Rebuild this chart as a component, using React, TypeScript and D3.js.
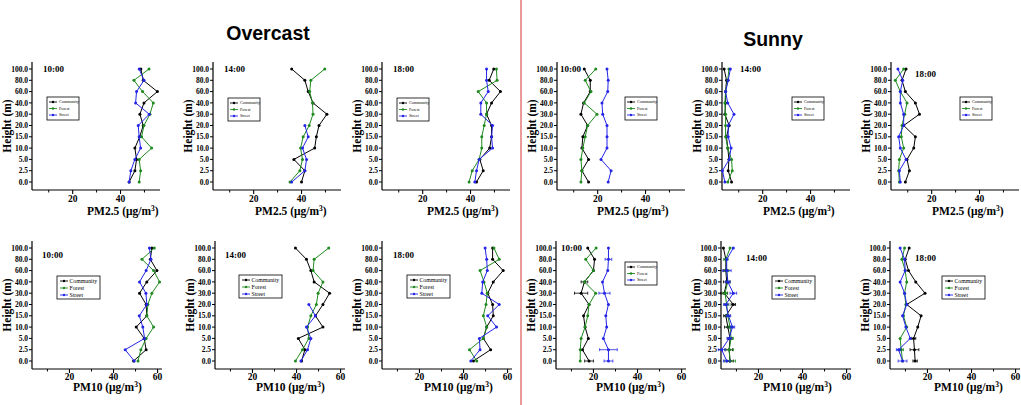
import * as d3 from "d3";
import { useEffect, useRef } from "react";

const heights = ["0.0", "2.5", "5.0", "10.0", "15.0", "20.0", "30.0", "40.0", "60.0", "80.0", "100.0"];
const sites = ["Community", "Forest", "Street"];
const siteColors = ["#000000", "#1f8a1f", "#2424e8"];
const pm25Ticks = [20, 40];
const pm10Ticks = [20, 40, 60];
const minorTicks = [10, 30, 50];
const times = ["10:00", "14:00", "18:00"];

// values per height, bottom (0.0 m) to top (100.0 m)
const overcastPm25At10 = {
  community: [43.6, 46, 46.7, 46, 48, 49.5, 48.1, 49.8, 55.4, 49.5, 48.5],
  forest: [47.8, 48.4, 47.8, 53, 48.8, 49.8, 52.3, 53.7, 49.2, 45.6, 51.9],
  street: [43.6, 44.3, 46, 48.4, 47.8, 47.4, 52, 46.3, 46.7, 49.8, 47.8]
};
const overcastPm25At14 = {
  community: [40, 41.4, 36.8, 45.5, 46.2, 47.3, 50.6, 44.8, 42.8, 41.4, 35.9],
  forest: [35.2, 39.3, 40.4, 39.6, 40.7, 43.2, 44.8, 44.6, 43.4, 43.9, 49.7],
  street: [35.9, 41.4, 42.1, 40.4, 42.8, 41.4, null, null, null, null, null]
};
const overcastPm25At18 = {
  community: [42.5, 45.3, 43.9, 48, 48.8, 48.8, 46.7, 48.8, 52.5, 47.8, 49.7],
  forest: [39.4, 40.7, 43.6, 44.7, 44.7, 45.7, 46.7, 46.7, 43.2, 51.1, 50.8],
  street: [41.8, 42.5, 43.6, 49.2, 48.8, 49.2, 44.3, 44.3, 47.4, 46.7, 46.7]
};
const sunnyPm25At10 = {
  community: [16.2, 13.4, 16.2, 13.4, 13.8, 15.8, 13, 14.1, 16.9, 16.9, 14.4],
  forest: [13, 13.4, 13, 13.8, 14.8, 15.8, 19.7, 14.4, 17.2, 14.8, 19.2],
  street: [24.4, 25.6, 21.4, 23.9, 23.9, 23.9, 22.1, 21.8, 24.2, 24.4, 23.9]
};
const sunnyPm25At14 = {
  community: [7, 5.6, 5.9, 5.4, 4.9, 6, 4.2, 4.5, 4.5, 4.9, 3.9],
  forest: [5.4, 7.3, 7, 5.4, 4.5, 4.5, 4.5, 4.2, 4.5, 5.4, 5.9],
  street: [4.2, 3.2, 6, 6.8, 5.6, 5.6, 8, 5.4, 4.5, 5.6, 6.5]
};
const sunnyPm25At18 = {
  community: [9, 10.7, 9.7, 12.5, 13.2, 8.3, 14.9, 13.2, 9, 7.6, 9.3],
  forest: [6.5, 6.2, 6.5, 8.3, 7.3, 7.6, 8.7, 9.7, 6.9, 4.8, 8.3],
  street: [6.9, 6.5, 9.3, 6.9, 6.2, 8.3, 8.3, 6.9, 6.9, 7.9, 5.9]
};
const overcastPm10At10 = {
  community: [49.1, 54.8, 53.9, 50.3, 55.1, 54.8, 51.8, 55.1, 59.7, 56.7, 57.4],
  forest: [51.1, 52.4, 54.8, 58.2, 55.1, 55.6, 57.4, 60.9, 58.2, 52.9, 58.5],
  street: [49.4, 45.3, 54.1, 53.3, 51.7, 55.1, 54.7, 51.8, 54.8, 57, 56.3]
};
const overcastPm10At14 = {
  community: [42.3, 43.8, 40.8, 52, 48.6, 52, 55, 48, 46.5, 44.5, 39.5],
  forest: [39.5, 42.7, 45.6, 45, 46.5, 49, 49.8, 52, 47.5, 48, 54.6],
  street: [42, 45, 46.5, 44.5, 48.6, 45.6, null, null, null, null, null]
};
const overcastPm10At18 = {
  community: [44.5, 52.3, 49, 50.5, 53.5, 53.2, 51, 53.5, 58, 53.2, 53.2],
  forest: [46, 42.7, 49, 50.5, 49, 50.2, 50.8, 49.3, 47.5, 56.2, 53.8],
  street: [43.3, 47.5, 47.2, 55, 51, 56.2, 48.3, 48.7, 50.8, 50.5, 49.8]
};
const sunnyPm10At10 = {
  community: [18, 15, 17.7, 16.2, 15.5, 18, 14.4, 15.9, 20, 20.5, 17.4],
  forest: [14, 14, 14.4, 16.2, 17.4, 18, 21, 15.9, 20, 16.5, 21.2],
  street: [26.8, 26.8, 24.5, 26, 25.6, 26.8, 25, 24.1, 26.5, 26.8, 26.8]
};
const sunnyPm10At14 = {
  community: [7.1, 6.7, 7.1, 6.1, 5.2, 8.6, 4.5, 5.6, 5.2, 5.2, 4.1],
  forest: [7.1, 6.7, 7.6, 7.1, 6.1, 5.6, 4.8, 6.1, 5.6, 5.2, 7.1],
  street: [5.6, 3.3, 6.7, 8.2, 6.4, 5.2, 8.6, 6.1, 5.6, 5.6, 8.6]
};
const sunnyPm10At18 = {
  community: [14.4, 14.1, 13.7, 15.6, 17.1, 10.6, 18.9, 14.7, 11.4, 9.9, 11.7],
  forest: [8.7, 8.1, 7.6, 10.6, 9.1, 10.2, 9.6, 10.6, 9.9, 8.4, 9.6],
  street: [8.7, 6.9, 12.2, 10.2, 8.7, 10.6, 9.6, 7.6, 9.9, 9.6, 7.6]
};

// error bars (± µg/m³) seen on the sunny PM10 panels
const sunnyPm10At10Err = {
  community: [2, 0, 0, 0, 0, 0, 3, 1.5, 0, 0, 0],
  forest: [0, 0, 0, 0, 0, 0, 0, 0, 0, 0, 0],
  street: [2, 4, 0, 0, 0, 0, 2.5, 0, 0, 1.5, 0]
};
const sunnyPm10At14Err = {
  community: [1.5, 1.5, 1, 1.5, 1, 1, 1.5, 1.5, 1, 0, 0],
  forest: [2.5, 2, 1, 1, 1, 1, 1, 1, 1, 1, 0],
  street: [1.5, 1.5, 1, 1, 1, 1, 1.5, 1, 2, 0, 0]
};
const sunnyPm10At18Err = {
  community: [1, 2, 1, 0, 0, 0, 0, 0, 0, 0, 0],
  forest: [0, 1, 0, 0, 0, 0, 0, 0, 0, 0, 0],
  street: [2, 1, 0, 0, 0, 0, 0, 0, 0, 0, 0]
};

type Series = { community: (number | null)[]; forest: (number | null)[]; street: (number | null)[] };

const topData: Series[] = [overcastPm25At10, overcastPm25At14, overcastPm25At18, sunnyPm25At10, sunnyPm25At14, sunnyPm25At18];
const bottomData: Series[] = [overcastPm10At10, overcastPm10At14, overcastPm10At18, sunnyPm10At10, sunnyPm10At14, sunnyPm10At18];
const bottomErr: (Series | null)[] = [null, null, null, sunnyPm10At10Err, sunnyPm10At14Err, sunnyPm10At18Err];

const rows = [
  { top: 62, y100: 69, y0: 182, base: 190, domain: [3, 56.5], width: 128, ticks: pm25Ticks, label: "PM2.5", tickBase: 202, titleBase: 215,
    axisX: [32, 213, 382, 557, 722, 891], titleDx: [55, 42, 45, 40, 41, 41],
    timePos: [[11, 72], [11, 72], [11, 72], [3, 72], [18, 72], [24, 77]],
    legend: [[15, 97, 0], [15, 98, 0], [15, 98, 0], [68, 97, 0], [70, 97, 0], [69, 97, 0]] },
  { top: 241, y100: 248, y0: 361, base: 369, domain: [3, 62], width: 130, ticks: pm10Ticks, label: "PM10", tickBase: 380, titleBase: 391,
    axisX: [32, 215, 382, 556, 721, 890], titleDx: [41, 41, 42, 40, 42, 44],
    timePos: [[10, 258], [10, 258], [11, 258], [5, 251], [25, 261], [25, 261]],
    legend: [[25, 276, 1], [24, 275, 1], [25, 275, 1], [69, 262, 0], [51, 276, 1], [52, 276, 1]] }
];

const legendStyles = [
  { w: 32, h: 23, l1: 2, l2: 10, tx: 12, font: 4.2, rows: [5, 11.5, 18] },
  { w: 43, h: 23, l1: 3, l2: 11, tx: 12.5, font: 5.8, rows: [5, 12, 19] }
];

const serif = "'Liberation Serif', 'Times New Roman', serif";

export default function App() {
  const ref = useRef<SVGSVGElement | null>(null);

  useEffect(() => {
    if (!ref.current) return;
    const svg = d3.select(ref.current);
    svg.selectAll("*").remove();

    svg.append("rect").attr("width", 1021).attr("height", 405).attr("fill", "#fff");

    rows.forEach((row, r) => {
      const dataSet = r === 0 ? topData : bottomData;
      dataSet.forEach((series, c) => {
        const ax = row.axisX[c];
        const g = svg.append("g");
        const x = d3.scaleLinear().domain(row.domain).range([ax, ax + row.width]);
        const y = d3.scalePoint<string>().domain(heights).range([row.y0, row.y100]);

        // axes lines
        g.append("line").attr("x1", ax).attr("x2", ax).attr("y1", row.top).attr("y2", row.base)
          .attr("stroke", "#000").attr("stroke-width", 1.2);
        g.append("line").attr("x1", ax).attr("x2", ax + row.width).attr("y1", row.base).attr("y2", row.base)
          .attr("stroke", "#000").attr("stroke-width", 1.2);

        // y ticks
        heights.forEach((h) => {
          g.append("line").attr("x1", ax - 3).attr("x2", ax).attr("y1", y(h)!).attr("y2", y(h)!)
            .attr("stroke", "#000").attr("stroke-width", 1);
          g.append("text").attr("x", ax - 4).attr("y", y(h)!).attr("dy", "0.35em")
            .attr("text-anchor", "end").attr("font-family", serif).attr("font-weight", "bold")
            .attr("font-size", 7.5).text(h);
        });

        // x ticks
        minorTicks.forEach((t) => {
          g.append("line").attr("x1", x(t)).attr("x2", x(t)).attr("y1", row.base).attr("y2", row.base + 2.5)
            .attr("stroke", "#000");
        });
        row.ticks.forEach((t) => {
          g.append("line").attr("x1", x(t)).attr("x2", x(t)).attr("y1", row.base).attr("y2", row.base + 4)
            .attr("stroke", "#000").attr("stroke-width", 1.1);
          g.append("text").attr("x", x(t)).attr("y", row.tickBase).attr("text-anchor", "middle")
            .attr("font-family", serif).attr("font-weight", "bold").attr("font-size", 9.5).text(t);
        });

        // axis titles
        g.append("text")
          .attr("transform", `translate(${ax - 21}, ${(row.top + row.base) / 2}) rotate(-90)`)
          .attr("text-anchor", "middle").attr("font-family", serif).attr("font-weight", "bold")
          .attr("font-size", 11.5).text("Height (m)");
        const xt = g.append("text").attr("x", ax + row.titleDx[c]).attr("y", row.titleBase)
          .attr("font-family", serif).attr("font-weight", "bold").attr("font-size", 11.5);
        xt.append("tspan").text(`${row.label} (μg/m`);
        xt.append("tspan").attr("dy", -4).attr("font-size", 7.5).text("3");
        xt.append("tspan").attr("dy", 4).text(")");

        // time label
        g.append("text").attr("x", ax + row.timePos[c][0]).attr("y", row.timePos[c][1])
          .attr("font-family", serif).attr("font-weight", "bold").attr("font-size", 9)
          .text(times[c % 3]);

        // series
        const keys: (keyof Series)[] = ["community", "forest", "street"];
        const errs = r === 1 ? bottomErr[c] : null;
        keys.forEach((key, k) => {
          const vals = series[key];
          const pts = vals.map((v, i) => ({ v, h: heights[i], e: errs ? errs[key][i] ?? 0 : 0 }));
          const line = d3.line<{ v: number | null; h: string }>()
            .defined((d) => d.v != null)
            .x((d) => x(d.v as number))
            .y((d) => y(d.h)!);
          g.append("path").attr("d", line(pts)).attr("fill", "none")
            .attr("stroke", siteColors[k]).attr("stroke-width", 1);
          pts.filter((d) => d.v != null && d.e > 0).forEach((d) => {
            const yy = y(d.h)!;
            const x1 = x((d.v as number) - (d.e as number));
            const x2 = x((d.v as number) + (d.e as number));
            g.append("line").attr("x1", x1).attr("x2", x2).attr("y1", yy).attr("y2", yy)
              .attr("stroke", siteColors[k]).attr("stroke-width", 0.8);
            [x1, x2].forEach((xe) => {
              g.append("line").attr("x1", xe).attr("x2", xe).attr("y1", yy - 1.5).attr("y2", yy + 1.5)
                .attr("stroke", siteColors[k]).attr("stroke-width", 0.8);
            });
          });
          g.selectAll(null).data(pts.filter((d) => d.v != null)).enter().append("circle")
            .attr("cx", (d) => x(d.v as number)).attr("cy", (d) => y(d.h)!)
            .attr("r", 1.5).attr("fill", siteColors[k]);
        });

        // legend
        const [ldx, ly, styleIdx] = row.legend[c];
        const ls = legendStyles[styleIdx];
        const lx = ax + ldx;
        g.append("rect").attr("x", lx).attr("y", ly).attr("width", ls.w).attr("height", ls.h)
          .attr("fill", "#fff").attr("stroke", "#000").attr("stroke-width", 0.8);
        sites.forEach((s, k) => {
          const yy = ly + ls.rows[k];
          g.append("line").attr("x1", lx + ls.l1).attr("x2", lx + ls.l2).attr("y1", yy).attr("y2", yy)
            .attr("stroke", siteColors[k]).attr("stroke-width", 0.9);
          g.append("circle").attr("cx", lx + (ls.l1 + ls.l2) / 2).attr("cy", yy).attr("r", 1.2)
            .attr("fill", siteColors[k]);
          g.append("text").attr("x", lx + ls.tx).attr("y", yy).attr("dy", "0.35em")
            .attr("font-family", serif).attr("font-size", ls.font).text(s);
        });
      });
    });

    // divider and condition titles
    svg.append("line").attr("x1", 521).attr("x2", 521).attr("y1", 0).attr("y2", 405)
      .attr("stroke", "#e06464").attr("stroke-width", 1.3);
    svg.append("text").attr("x", 268).attr("y", 40).attr("text-anchor", "middle")
      .attr("font-family", "'Liberation Sans', Arial, sans-serif").attr("font-weight", "bold")
      .attr("font-size", 19.5).text("Overcast");
    svg.append("text").attr("x", 773).attr("y", 46).attr("text-anchor", "middle")
      .attr("font-family", "'Liberation Sans', Arial, sans-serif").attr("font-weight", "bold")
      .attr("font-size", 19.5).text("Sunny");
  }, []);

  return (
    <svg
      ref={ref}
      width={1021}
      height={405}
      viewBox="0 0 1021 405"
      style={{ position: "absolute", left: 0, top: 0, display: "block" }}
      aria-label="PM2.5 and PM10 vertical profiles"
    />
  );
}
